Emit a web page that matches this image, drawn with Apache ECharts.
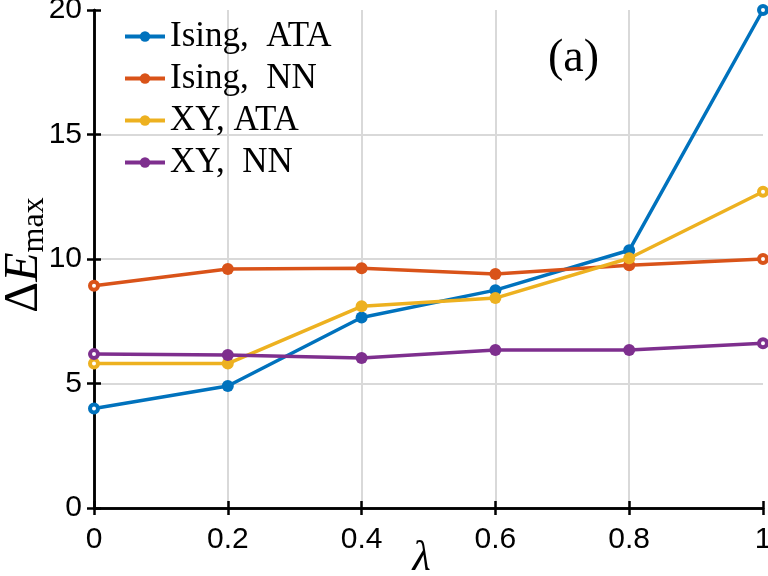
<!DOCTYPE html>
<html>
<head>
<meta charset="utf-8">
<script src="https://cdn.jsdelivr.net/npm/echarts@6/dist/echarts.min.js"></script>
<style>
  html, body { margin: 0; padding: 0; background: #fff; }
  #main { width: 768px; height: 576px; }
</style>
</head>
<body>
<div id="main"></div>
<script>
// lambda values on the x axis
const lambdas = [0, 0.2, 0.4, 0.6, 0.8, 1];

// ΔE_max for each model
const isingATA = [4.0, 4.9, 7.65, 8.75, 10.35, 20];
const isingNN = [8.93, 9.6, 9.63, 9.4, 9.75, 10.0];
const xyATA = [5.8, 5.8, 8.1, 8.43, 10.03, 12.7];
const xyNN = [6.18, 6.14, 6.02, 6.35, 6.35, 6.62];

const names = ['Ising,  ATA', 'Ising,  NN', 'XY, ATA', 'XY,  NN'];
const colors = ['#0072BD', '#D95319', '#EDB120', '#7E2F8E'];

const myChart = echarts.init(document.querySelector('#main'));

// end points are drawn as rings (like the original figure)
const mkSeries = (name, vals, color) => ({
  name: name,
  type: 'line',
  data: lambdas.map((x, i) => {
    const edge = i === 0 || i === lambdas.length - 1;
    return edge
      ? { value: [x, vals[i]], symbolSize: 8, itemStyle: { color: '#fff', borderColor: color, borderWidth: 4 } }
      : { value: [x, vals[i]] };
  }),
  symbol: 'circle',
  symbolSize: 12,
  showSymbol: true,
  itemStyle: { color: color },
  lineStyle: { width: 3.5, color: color },
  z: 5
});

const tickFont = { fontFamily: 'Liberation Sans', fontSize: 30, color: '#000' };
const blackLine = { color: '#000', width: 2.5 };
const gridLine = { show: true, showMinLine: false, showMaxLine: false, lineStyle: { color: '#d9d9d9', width: 2 } };

const option = {
  animation: false,
  grid: { left: 94, right: 5, top: 10, bottom: 68, outerBoundsMode: 'none', containLabel: false },
  legend: {
    orient: 'vertical',
    left: 123,
    top: 19,
    padding: 0,
    itemGap: 7,
    itemWidth: 40,
    itemHeight: 13,
    lineStyle: { width: 4 },
    itemStyle: { color: 'inherit', borderWidth: 0 },
    textStyle: { fontFamily: 'Liberation Serif', fontSize: 35, color: '#000' },
    data: names
  },
  xAxis: [{
    type: 'value',
    min: 0, max: 1, interval: 0.2,
    name: 'λ',
    nameLocation: 'middle',
    nameGap: 30,
    nameMoveOverlap: false,
    nameTextStyle: { fontFamily: 'Liberation Serif', fontStyle: 'italic', fontSize: 42, color: '#000', padding: [0, 14, 0, 0] },
    axisLine: { show: true, lineStyle: blackLine },
    axisTick: { inside: true, length: 7, lineStyle: blackLine },
    axisLabel: Object.assign({ margin: 17, formatter: v => String(+v.toFixed(1)) }, tickFont),
    splitLine: gridLine
  }, {
    type: 'value', position: 'top',
    min: 0, max: 1, interval: 0.2,
    axisLine: { show: true, lineStyle: blackLine },
    axisTick: { inside: true, length: 7, lineStyle: blackLine },
    axisLabel: { show: false },
    splitLine: { show: false }
  }],
  yAxis: [{
    type: 'value',
    min: 0, max: 20, interval: 5,
    name: '{d|Δ}{e|E}{s|max}',
    nameLocation: 'middle',
    nameRotate: 90,
    nameGap: 46,
    nameMoveOverlap: false,
    nameTextStyle: {
      padding: [0, 0, 0, 8],
      rich: {
        d: { fontFamily: 'Liberation Serif', fontSize: 48, lineHeight: 48, verticalAlign: 'top', color: '#000' },
        e: { fontFamily: 'Liberation Serif', fontStyle: 'italic', fontSize: 48, lineHeight: 48, verticalAlign: 'top', color: '#000' },
        s: { fontFamily: 'Liberation Serif', fontSize: 32, lineHeight: 32, verticalAlign: 'top', padding: [19, 0, 0, 0], color: '#000' }
      }
    },
    axisLine: { show: true, lineStyle: blackLine },
    axisTick: { show: true, inside: true, length: 7, lineStyle: blackLine },
    axisLabel: Object.assign({ margin: 12 }, tickFont),
    splitLine: gridLine
  }, {
    type: 'value', position: 'right',
    min: 0, max: 20, interval: 5,
    axisLine: { show: true, lineStyle: blackLine },
    axisTick: { show: true, inside: true, length: 7, lineStyle: blackLine },
    axisLabel: { show: false },
    splitLine: { show: false }
  }],
  series: [
    mkSeries(names[0], isingATA, colors[0]),
    mkSeries(names[1], isingNN, colors[1]),
    mkSeries(names[2], xyATA, colors[2]),
    mkSeries(names[3], xyNN, colors[3])
  ],
  graphic: [{
    type: 'text',
    left: 548,
    top: 36,
    style: { text: '(a)', fontFamily: 'Liberation Serif', fontSize: 46, fill: '#000' }
  }]
};

myChart.setOption(option);
</script>
</body>
</html>
